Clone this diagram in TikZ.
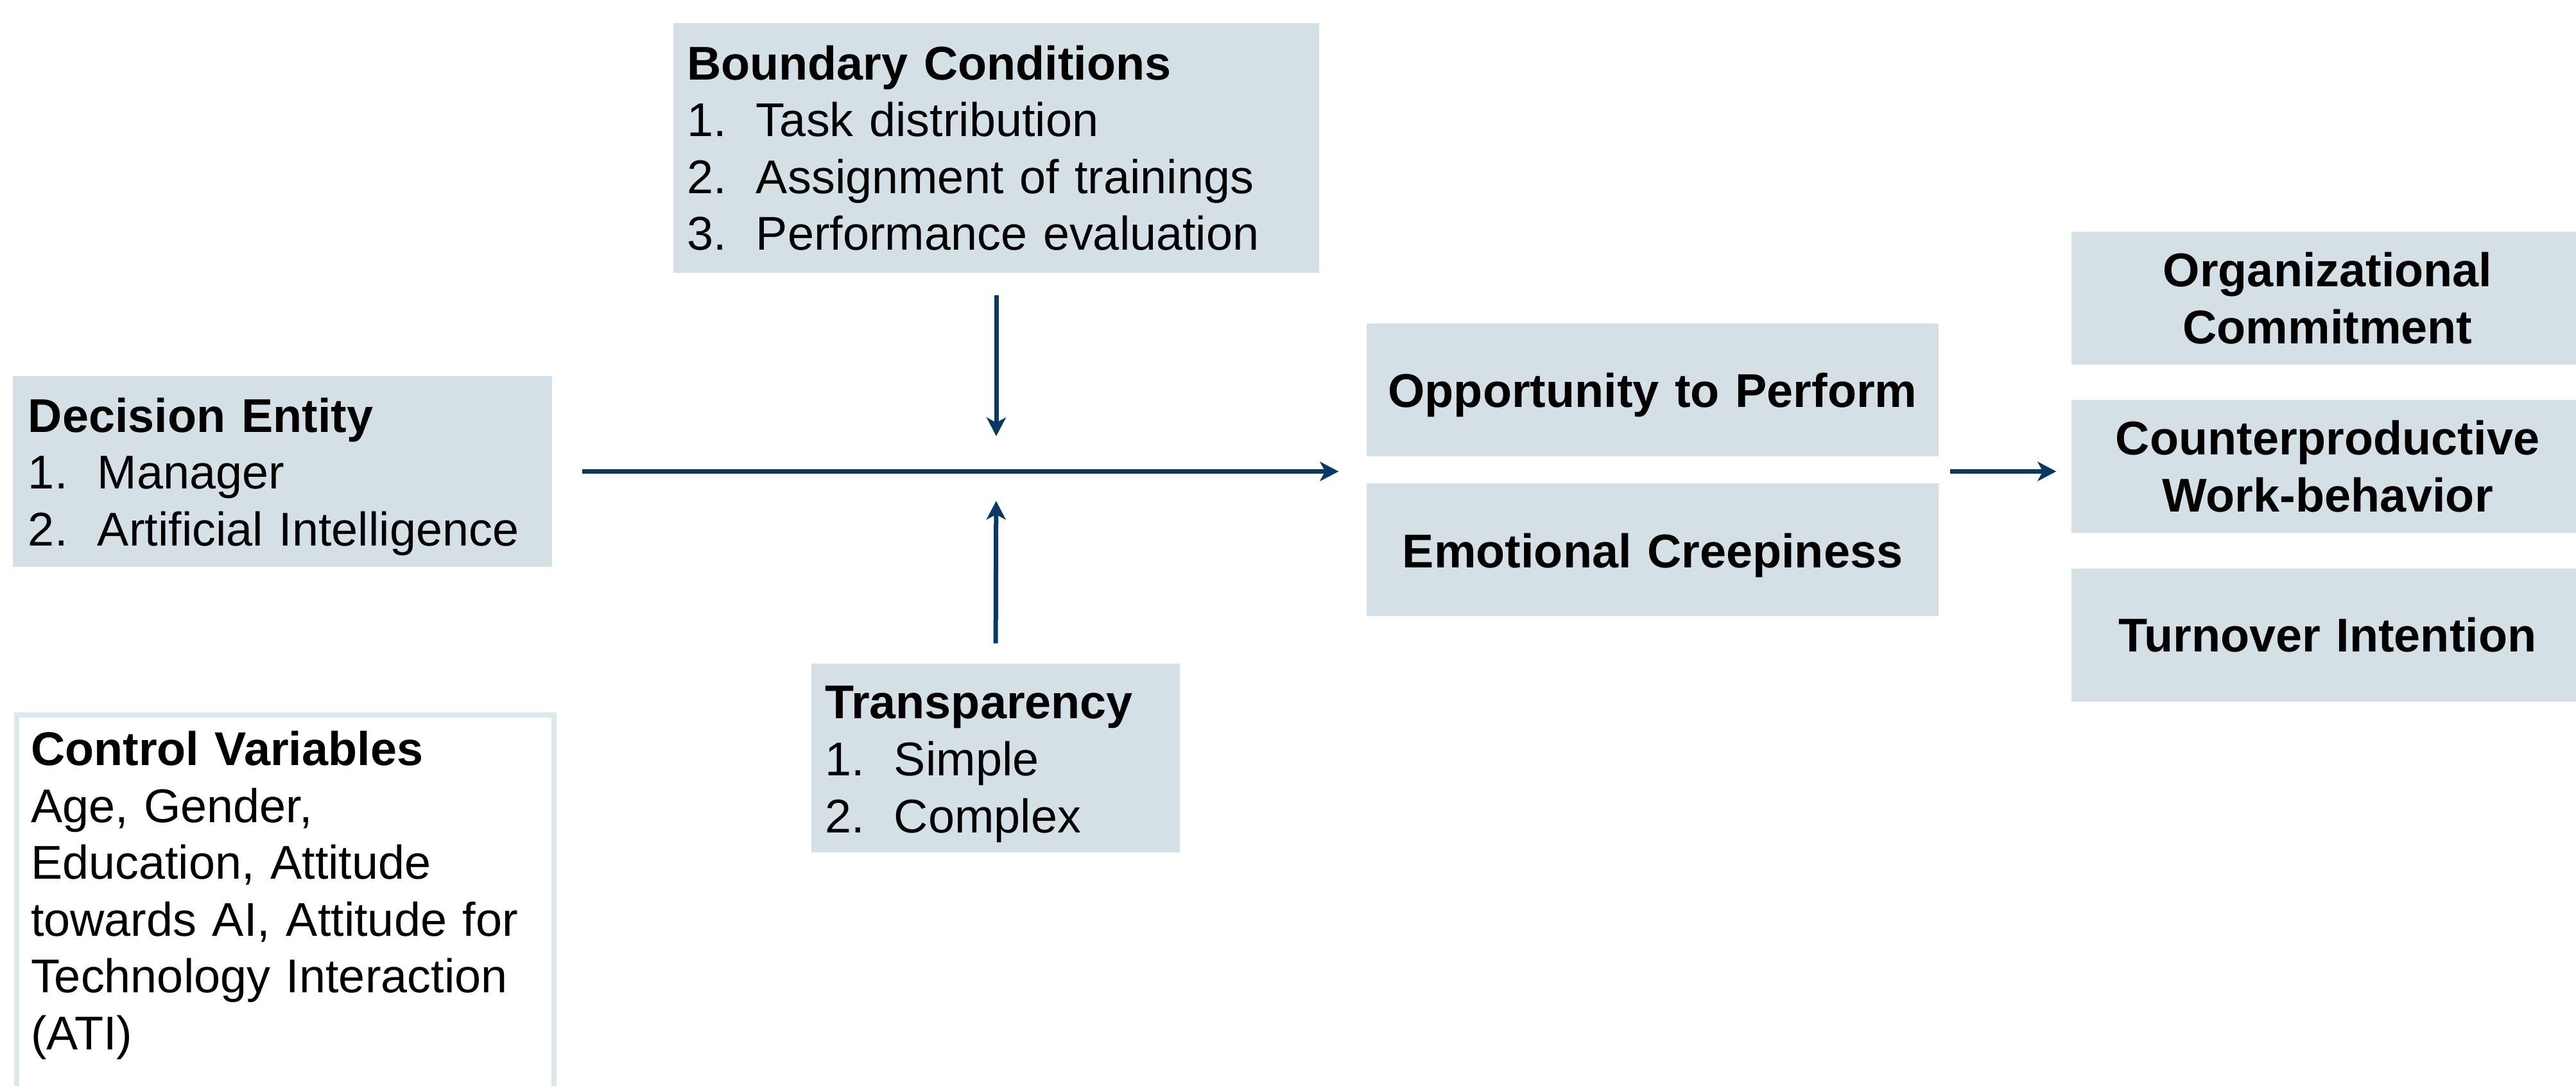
\documentclass[tikz,border=0pt]{standalone}
\usepackage{fontspec}
\setmainfont{Liberation Sans}
\usetikzlibrary{arrows.meta, positioning}
\definecolor{boxfill}{RGB}{212,224,230}
\definecolor{boxline}{RGB}{222,231,236}
\definecolor{arrowblue}{RGB}{8,57,98}
\newcommand{\numitem}[2]{\makebox[1.08cm][l]{#1}#2}
\tikzset{box/.style={rectangle,fill=boxfill,inner ysep=0pt,font=\fontsize{21pt}{25.2pt}\selectfont},
  listbox/.style={box,align=left,inner xsep=0.21cm},
  outbox/.style={box,align=center,inner xsep=0pt,text width=7.98cm,minimum height=2.07cm,font=\fontsize{21pt}{25.2pt}\selectfont\bfseries},
  lower/.style={execute at begin node={\rule{0pt}{20pt}}},
  line/.style={-{Stealth[length=0.29cm,width=0.30cm,inset=0.08cm]},line width=0.07cm,draw=arrowblue}}

\begin{document}
\begin{tikzpicture}[node distance=0.41cm and 1cm]
\useasboundingbox (0,0) rectangle (40.13,16.91);
\node[listbox, text width=9.64cm, minimum height=3.89cm] (bc) at (15.52,14.605)
  {\textbf{Boundary Conditions}\\ \numitem{1.}{Task distribution}\\ \numitem{2.}{Assignment of trainings}\\ \numitem{3.}{Performance evaluation}};
\node[listbox, lower, text width=7.92cm, inner xsep=0.24cm, minimum height=2.97cm] (de) at (4.40,9.565)
  {\textbf{Decision Entity}\\ \numitem{1.}{Manager}\\ \numitem{2.}{Artificial Intelligence}};
\node[listbox, lower, text width=5.32cm, minimum height=2.94cm] (tr) at (15.51,5.10)
  {\textbf{Transparency}\\ \numitem{1.}{Simple}\\ \numitem{2.}{Complex}};
\node[listbox, fill=none, draw=boxline, line width=0.08cm, text width=7.93cm, inner xsep=0.22cm, inner ysep=0.25cm, anchor=north west] (cv) at (0.22,5.81)
  {\textbf{Control Variables}\\ Age, Gender,\\ Education, Attitude\\ towards AI, Attitude for\\ Technology Interaction\\ (ATI)\rule[-1.5cm]{0pt}{0pt}};
% mediators
\node[outbox, lower, text width=8.91cm] (op) at (25.745,10.835) {Opportunity to Perform};
\node[outbox, lower, text width=8.91cm, below=of op] (ec) {Emotional Creepiness};
% outcomes
\node[outbox] (oc) at (36.26,12.265) {Organizational\\ Commitment};
\node[outbox, below=0.54cm of oc] (cwb) {Counterproductive\\ Work-behavior};
\node[outbox, below=0.54cm of cwb] (ti) {Turnover Intention};
\coordinate (hub) at (de.east -| bc.south);
\draw[line, shorten <=0.46cm, shorten >=0.43cm] (de.east) -- (de.east -| op.west);
\draw[line, shorten <=0.34cm, shorten >=0.55cm] (bc.south) -- (hub);
\draw[line, shorten <=0.31cm, shorten >=0.46cm] (tr.north) -- (hub);
\draw[line, shorten <=0.17cm, shorten >=0.23cm] (de.east -| op.east) -- (de.east -| cwb.west);
\end{tikzpicture}
\end{document}
